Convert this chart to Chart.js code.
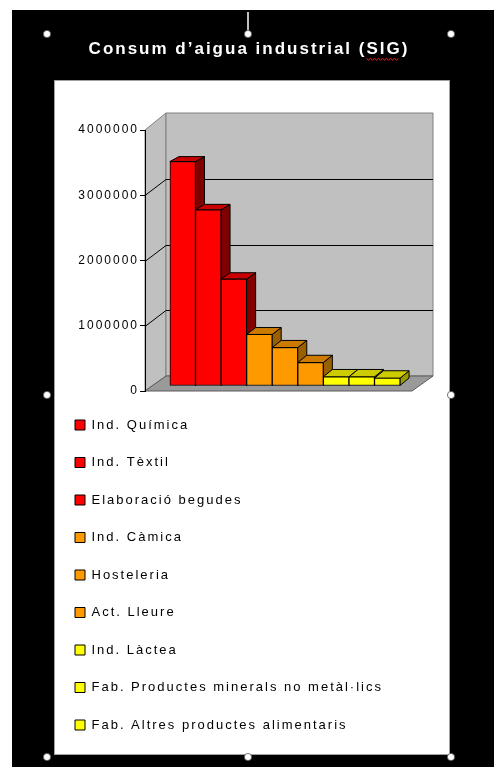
<!DOCTYPE html>
<html><head><meta charset="utf-8">
<script src="https://cdn.jsdelivr.net/npm/chart.js@4.4.1/dist/chart.umd.min.js"></script>
<style>html,body{margin:0;padding:0;background:#fff;}canvas{display:block;}</style>
</head><body>
<canvas id="c" width="494" height="767"></canvas>
<script>
const chartTitle = 'Consum d\u2019aigua industrial (SIG)';
const categories = ['Ind. Química','Ind. Tèxtil','Elaboració begudes','Ind. Càmica','Hosteleria','Act. Lleure','Ind. Làctea','Fab. Productes minerals no metàl·lics','Fab. Altres productes alimentaris'];
const values = [3440000, 2700000, 1640000, 790000, 590000, 360000, 140000, 140000, 120000];
const yTicks = [0, 1000000, 2000000, 3000000, 4000000];
const frontColors = ['#FF0000','#FF0000','#FF0000','#FF9900','#FF9900','#FF9900','#FFFF00','#FFFF00','#FFFF00'];
const topColors = ['#C80000','#C80000','#C80000','#CC7A00','#CC7A00','#CC7A00','#CCCC00','#CCCC00','#CCCC00'];
const sideColors = ['#800000','#800000','#800000','#996000','#996000','#996000','#999900','#999900','#999900'];

const FONT = "'Liberation Sans', Arial, sans-serif";
const SPACING = '2px';

function poly(c, pts, fill, stroke) {
  c.beginPath();
  c.moveTo(pts[0][0], pts[0][1]);
  for (let k = 1; k < pts.length; k++) c.lineTo(pts[k][0], pts[k][1]);
  c.closePath();
  if (fill) { c.fillStyle = fill; c.fill(); }
  if (stroke) { c.strokeStyle = stroke; c.lineWidth = 1; c.stroke(); }
}

const DX = 21;             // wall depth (x)
const BAR_DX = 9;          // bar depth (x)
const BAR_SHIFT = [7, -5]; // bars sit 1/3 into the depth

const deco = {
  id: 'deco',
  afterLayout(chart) {
    // let the (narrow, left-docked) legend draw its labels across the panel width
    const lg = chart.legend;
    if (lg) { lg.right = chart.width - 44; lg.width = lg.right - lg.left; }
  },
  beforeDraw(chart) {
    const c = chart.ctx, ca = chart.chartArea, ys = chart.scales.y;
    c.save();
    if ('letterSpacing' in c) c.letterSpacing = '0px';
    c.fillStyle = '#fff'; c.fillRect(0, 0, chart.width, chart.height);
    c.fillStyle = '#000'; c.fillRect(12, 10, chart.width - 12, chart.height - 10);
    c.fillStyle = '#fff'; c.fillRect(54, 80, 396, 675);
    c.strokeStyle = '#a0a0a0'; c.lineWidth = 1; c.strokeRect(54.5, 80.5, 395, 674);
    c.strokeStyle = '#fff'; c.lineWidth = 1.5;
    c.beginPath(); c.moveTo(248, 12); c.lineTo(248, 31); c.stroke();
    [[47,34],[248,34],[451,34],[47,395],[451,395],[47,757],[248,757],[451,757]].forEach(p => {
      c.beginPath(); c.arc(p[0], p[1], 3.6, 0, Math.PI * 2);
      c.fillStyle = '#fff'; c.fill();
      c.strokeStyle = '#555'; c.lineWidth = 0.8; c.stroke();
    });
    const yTop = ys.getPixelForValue(ys.max), y0 = ys.getPixelForValue(0);
    const backDY = (y) => 17 - 2 * (y - ca.top) / (ca.bottom - ca.top);
    const dT = backDY(yTop), d0 = backDY(y0);
    poly(c, [[ca.left, yTop], [ca.left + DX, yTop - dT], [ca.left + DX, y0 - d0], [ca.left, y0]], '#C0C0C0', '#808080');
    poly(c, [[ca.left + DX, yTop - dT], [ca.right + DX, yTop - dT], [ca.right + DX, y0 - d0], [ca.left + DX, y0 - d0]], '#C0C0C0', '#808080');
    poly(c, [[ca.left, y0], [ca.left + DX, y0 - d0], [ca.right + DX, y0 - d0], [ca.right, y0]], '#9A9A9A', '#5A5A5A');
    c.strokeStyle = '#000'; c.lineWidth = 1;
    ys.ticks.forEach(t => {
      if (t.value === 0 || t.value === ys.max) return;
      const y = ys.getPixelForValue(t.value), d = backDY(y);
      c.beginPath();
      c.moveTo(ca.left, Math.round(y) + 0.5);
      c.lineTo(ca.left + DX, Math.round(y - d) + 0.5);
      c.lineTo(ca.right + DX, Math.round(y - d) + 0.5);
      c.stroke();
    });
    c.restore();
    if ('letterSpacing' in c) c.letterSpacing = SPACING;
  },
  beforeDatasetsDraw(chart) {
    const c = chart.ctx, ca = chart.chartArea;
    const barDY = (y) => 4.5 + 3 * (y - ca.top) / (ca.bottom - ca.top);
    c.save();
    c.translate(BAR_SHIFT[0], BAR_SHIFT[1]);
    const meta = chart.getDatasetMeta(0);
    meta.data.forEach((bar, i) => {
      const p = bar.getProps(['x', 'y', 'base', 'width'], true);
      const L = p.x - p.width / 2, R = p.x + p.width / 2;
      const dT = barDY(p.y), dB = barDY(p.base);
      poly(c, [[R, p.y], [R + BAR_DX, p.y - dT], [R + BAR_DX, p.base - dB], [R, p.base]], sideColors[i], '#000');
      poly(c, [[L, p.y], [L + BAR_DX, p.y - dT], [R + BAR_DX, p.y - dT], [R, p.y]], topColors[i], '#000');
    });
  },
  afterDatasetsDraw(chart) {
    chart.ctx.restore();
  },
  afterDraw(chart) {
    const c = chart.ctx, tb = chart.titleBlock;
    if (!tb) return;
    c.save();
    c.font = 'bold 17px ' + FONT;
    if ('letterSpacing' in c) c.letterSpacing = SPACING;
    const full = c.measureText(chartTitle).width;
    const cx = (tb.left + tb.right) / 2;
    const x0 = cx - full / 2;
    const idx = chartTitle.indexOf('SIG');
    const sx = x0 + c.measureText(chartTitle.slice(0, idx)).width;
    const sw = c.measureText('SIG').width - 2;
    c.strokeStyle = '#ff2020'; c.lineWidth = 1;
    c.beginPath();
    let k = 0;
    for (let xx = sx; xx <= sx + sw; xx += 2, k++) {
      const yy = 58.5 + (k % 2 ? 1.5 : 0);
      if (k === 0) c.moveTo(xx, yy); else c.lineTo(xx, yy);
    }
    c.stroke();
    c.restore();
    if ('letterSpacing' in c) c.letterSpacing = '0px';
  }
};

Chart.defaults.color = '#000';
Chart.defaults.font.family = FONT;

new Chart(document.getElementById('c').getContext('2d'), {
  type: 'bar',
  data: {
    labels: categories,
    datasets: [{
      data: values.map((v, i) => ({ x: i, y: v })),
      backgroundColor: frontColors,
      borderColor: '#000',
      borderWidth: 1,
      borderSkipped: false,
      barPercentage: 1,
      categoryPercentage: 1,
      clip: false
    }]
  },
  options: {
    responsive: false,
    animation: false,
    devicePixelRatio: 1,
    events: [],
    layout: { padding: { left: 50.5, right: 46.5, top: 20, bottom: 11 } },
    plugins: {
      title: {
        display: true, text: chartTitle, color: '#fff',
        font: { family: FONT, size: 17, weight: 'bold' },
        padding: { top: 18.8, bottom: 70.8 }
      },
      legend: {
        position: 'left', align: 'end', fullSize: true, maxWidth: 1,
        labels: {
          font: { family: FONT, size: 13 }, color: '#000',
          boxWidth: 10, boxHeight: 10, padding: 24.5,
          generateLabels: () => categories.map((name, i) => ({
            text: name, fillStyle: frontColors[i], strokeStyle: '#000', lineWidth: 1, hidden: false, index: i
          }))
        }
      },
      tooltip: { enabled: false }
    },
    scales: {
      x: {
        type: 'linear', min: -1.2, max: 9.24, bounds: 'data', offset: false,
        ticks: { display: false }, grid: { display: false }, border: { display: false },
        afterFit: (s) => { s.height = 365; }
      },
      y: {
        type: 'linear', position: 'left', min: 0, max: yTicks[yTicks.length - 1],
        afterBuildTicks: (s) => { s.ticks = yTicks.map(v => ({ value: v })); },
        ticks: { callback: (v) => String(v), font: { family: FONT, size: 12 }, color: '#000', padding: 1 },
        grid: { display: true, drawOnChartArea: false, drawTicks: true, tickLength: 5, color: '#000', lineWidth: 1 },
        border: { display: true, color: '#000', width: 1 },
        afterFit: (s) => { s.width = 93.5; }
      },
      y2: {
        type: 'linear', position: 'right',
        ticks: { display: false }, grid: { display: false }, border: { display: false },
        afterFit: (s) => { s.width = 35.5; }
      }
    }
  },
  plugins: [deco]
});
</script>
</body></html>
